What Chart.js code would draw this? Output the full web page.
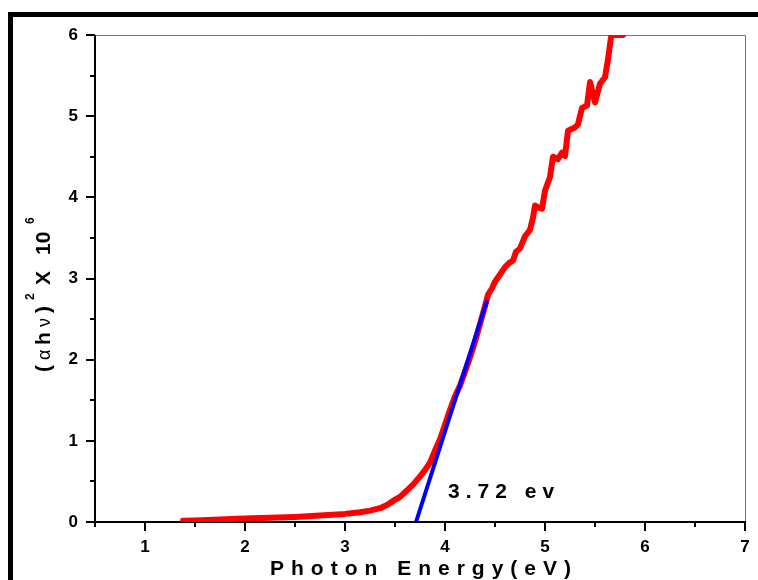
<!DOCTYPE html>
<html>
<head>
<meta charset="utf-8">
<script src="https://cdn.jsdelivr.net/npm/chart.js@4"></script>
<style>
  html, body { margin: 0; padding: 0; background: #fff; overflow: hidden; }
  #wrap { position: relative; width: 758px; height: 580px; }
  #frame {
    position: absolute; left: 8px; top: 12px; right: -20px; bottom: -20px;
    border-top: 5px solid #000; border-left: 5px solid #000; pointer-events: none;
  }
</style>
</head>
<body>
<div id="wrap">
  <canvas id="tauc" width="758" height="580"></canvas>
  <div id="frame"></div>
</div>
<script>
  // Photon energy (eV) and (alpha h nu)^2 x 10^6
  const energy = [1.38, 1.5, 1.75, 2.0, 2.25, 2.5, 2.75, 3.0, 3.15, 3.25,
    3.35, 3.42, 3.48, 3.55, 3.62, 3.68, 3.75, 3.8, 3.85, 3.9,
    3.95, 4.0, 4.05, 4.1, 4.15, 4.2, 4.25, 4.3, 4.35, 4.4,
    4.43, 4.47, 4.5, 4.55, 4.6, 4.65, 4.68, 4.71, 4.75, 4.8,
    4.85, 4.88, 4.9, 4.94, 4.97, 5.0, 5.05, 5.08, 5.13, 5.17,
    5.2, 5.23, 5.3, 5.33, 5.37, 5.42, 5.45, 5.5, 5.55, 5.6,
    5.63, 5.66, 5.68, 5.78];
  const absorption = [0.016, 0.02, 0.03, 0.042, 0.052, 0.063, 0.08, 0.1, 0.12, 0.14,
    0.17, 0.21, 0.26, 0.31, 0.39, 0.46, 0.56, 0.64, 0.73, 0.88,
    1.02, 1.2, 1.38, 1.55, 1.68, 1.85, 2.03, 2.22, 2.44, 2.66,
    2.8, 2.88, 2.96, 3.05, 3.14, 3.2, 3.22, 3.33, 3.37, 3.52,
    3.6, 3.75, 3.9, 3.87, 3.86, 4.08, 4.25, 4.5, 4.47, 4.55,
    4.51, 4.82, 4.86, 4.9, 5.1, 5.13, 5.42, 5.17, 5.4, 5.48,
    5.7, 5.97, 6.0, 6.0];

  // linear fit to the absorption edge
  const fitEnergy = [3.71, 4.42];
  const fitValue = [0, 2.73];
  const gapLabel = '3.72 ev';

  const xTicks = [1, 2, 3, 4, 5, 6, 7];
  const yTicks = [0, 1, 2, 3, 4, 5, 6];

  const FONT = "Arial, 'Liberation Sans', sans-serif";

  const curve = energy.map((e, i) => ({ x: e, y: absorption[i] }));
  const fit = fitEnergy.map((e, i) => ({ x: e, y: fitValue[i] }));

  // axis lines, tick marks, titles and annotation
  const framePlugin = {
    id: 'framePlugin',
    beforeDatasetsDraw(chart) {
      const ctx = chart.ctx;
      const a = chart.chartArea;
      const xs = chart.scales.x, ys = chart.scales.y;
      ctx.save();
      // top & right: thin gray
      ctx.strokeStyle = '#777';
      ctx.lineWidth = 1;
      ctx.beginPath();
      ctx.moveTo(a.left, a.top + 0.5); ctx.lineTo(a.right + 0.5, a.top + 0.5);
      ctx.lineTo(a.right + 0.5, a.bottom);
      ctx.stroke();
      // left & bottom: black
      ctx.strokeStyle = '#000';
      ctx.lineWidth = 2;
      ctx.beginPath();
      ctx.moveTo(a.left, a.top); ctx.lineTo(a.left, a.bottom);
      ctx.lineTo(a.right + 1, a.bottom);
      ctx.stroke();
      // ticks
      ctx.beginPath();
      for (let v = 0.5; v <= 7.001; v += 0.5) {
        const px = Math.round(xs.getPixelForValue(v));
        const len = Number.isInteger(v) ? 9 : 5;
        ctx.moveTo(px, a.bottom); ctx.lineTo(px, a.bottom + len);
      }
      for (let v = 0; v <= 6.001; v += 0.5) {
        const py = Math.round(ys.getPixelForValue(v));
        const len = Number.isInteger(v) ? 9 : 5;
        ctx.moveTo(a.left, py); ctx.lineTo(a.left - len, py);
      }
      ctx.stroke();
      ctx.restore();
    },
    afterDraw(chart) {
      const ctx = chart.ctx;
      const xs = chart.scales.x, ys = chart.scales.y;
      ctx.save();
      ctx.fillStyle = '#000';
      ctx.textBaseline = 'alphabetic';

      // x title
      ctx.font = 'bold 21px ' + FONT;
      ctx.letterSpacing = '7px';
      ctx.textAlign = 'left';
      ctx.fillText('Photon Energy(eV)', 270, 575);

      // annotation
      ctx.font = 'bold 21px ' + FONT;
      ctx.letterSpacing = '6px';
      ctx.fillText(gapLabel, xs.getPixelForValue(4.03), ys.getPixelForValue(0.295));

      // y title, rotated
      ctx.letterSpacing = '0px';
      ctx.translate(50, 372);
      ctx.rotate(-Math.PI / 2);
      const parts = [
        ['(', 0, 0, 'bold 21px '],
        ['\u03b1', 12, 0, '18px '],
        ['h', 27, 0, 'bold 21px '],
        ['\u03bd', 45, 0, '18px '],
        [')', 59, 0, 'bold 21px '],
        ['2', 72, -16, 'bold 12px '],
        ['X', 87, 0, 'bold 21px '],
        ['10', 117, 0, 'bold 21px '],
        ['6', 148, -16, 'bold 12px ']
      ];
      parts.forEach(p => {
        ctx.font = p[3] + FONT;
        ctx.fillText(p[0], p[1], p[2]);
      });
      ctx.restore();
    }
  };

  new Chart(document.getElementById('tauc'), {
    type: 'scatter',
    data: {
      datasets: [
        {
          label: 'fit',
          data: fit,
          showLine: true,
          borderColor: '#0000ff',
          borderWidth: 4,
          pointRadius: 0,
          order: 1
        },
        {
          label: 'Tauc',
          data: curve,
          showLine: true,
          borderColor: '#ff0000',
          borderWidth: 6,
          borderCapStyle: 'round',
          borderJoinStyle: 'round',
          pointRadius: 0,
          tension: 0,
          order: 2
        }
      ]
    },
    options: {
      responsive: false,
      animation: false,
      events: [],
      layout: { padding: { left: 0, top: 35, right: 13, bottom: 0 } },
      plugins: { legend: { display: false }, tooltip: { enabled: false } },
      scales: {
        x: {
          type: 'linear',
          min: 0.5,
          max: 7,
          afterFit(s) { s.height = 58; s.paddingLeft = 0; s.paddingRight = 0; },
          afterBuildTicks(s) { s.ticks = xTicks.map(v => ({ value: v })); },
          grid: { display: false, drawTicks: false },
          border: { display: false },
          ticks: {
            padding: 15,
            color: '#000',
            maxRotation: 0,
            autoSkip: false,
            font: { family: FONT, size: 17, weight: 'bold' }
          }
        },
        y: {
          type: 'linear',
          min: 0,
          max: 6,
          afterFit(s) { s.width = 95; s.paddingTop = 0; s.paddingBottom = 0; },
          afterBuildTicks(s) { s.ticks = yTicks.map(v => ({ value: v })); },
          grid: { display: false, drawTicks: false },
          border: { display: false },
          ticks: {
            padding: 17,
            color: '#000',
            font: { family: FONT, size: 17, weight: 'bold' }
          }
        }
      }
    },
    plugins: [framePlugin]
  });
</script>
</body>
</html>
